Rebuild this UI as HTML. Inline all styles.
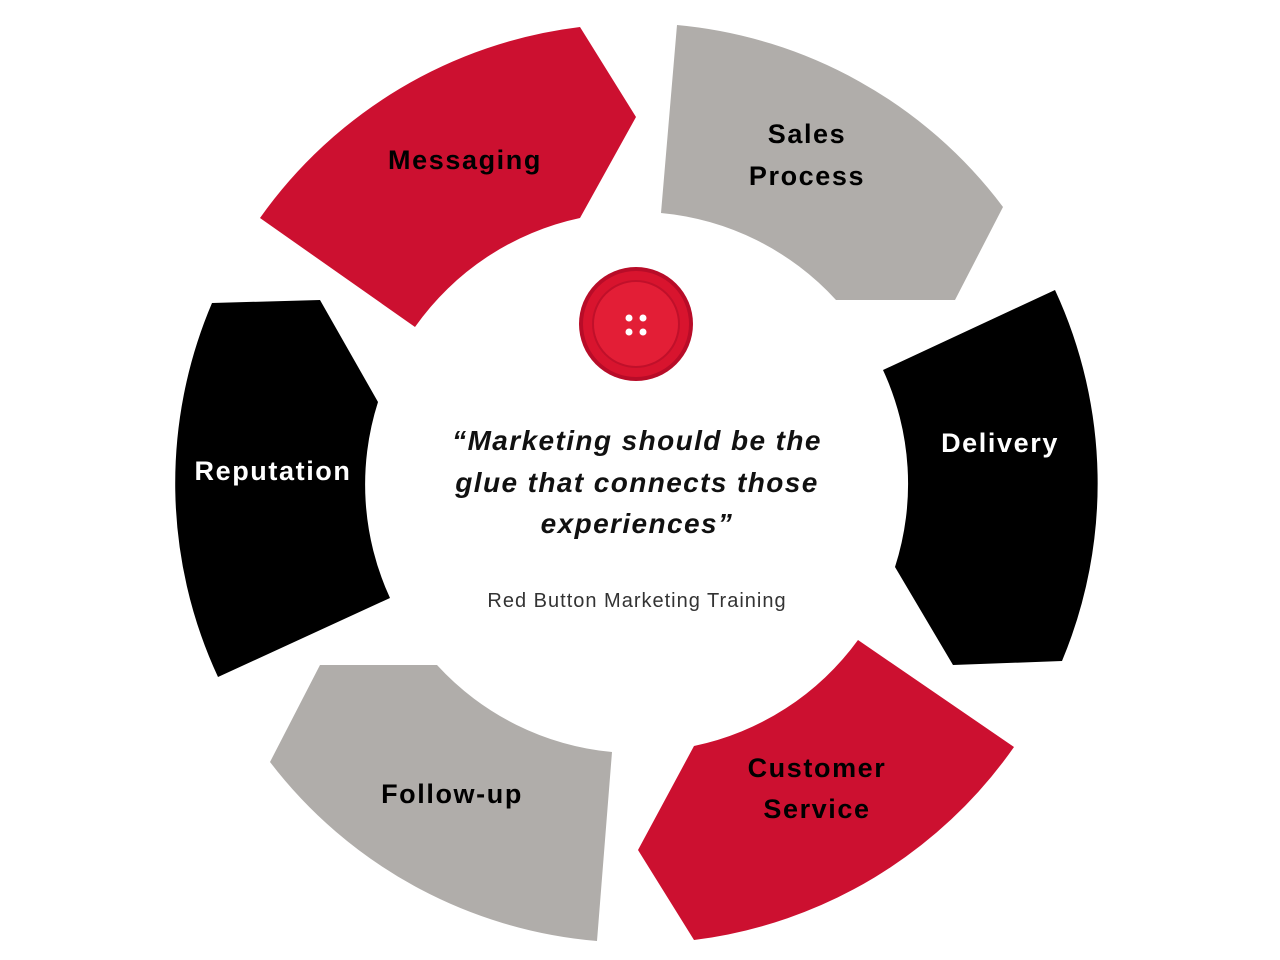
<!DOCTYPE html>
<html><head><meta charset="utf-8"><style>
html,body{margin:0;padding:0;background:#fff;}
svg{display:block;}
text{font-family:"Liberation Sans",sans-serif;}
</style></head><body>
<svg width="1280" height="960" viewBox="0 0 1280 960">
<path d="M260,218 A460,460 0 0 1 580,27 L636,117 L580,218 A271,271 0 0 0 415,327 Z" fill="#cc1030"/>
<path d="M677,25 A460,460 0 0 1 1003,207 L955,300 L836,300 A271,271 0 0 0 661,213 Z" fill="#b0adaa"/>
<path d="M883,370 L1055,290 A460,460 0 0 1 1062,661 L953,665 L895,567 A271,271 0 0 0 883,370 Z" fill="#000"/>
<path d="M858,640 L1014,747 A460,460 0 0 1 694,940 L638,850 L694,746 A271,271 0 0 0 858,640 Z" fill="#cc1030"/>
<path d="M597,941 A460,460 0 0 1 270,762 L320,665 L437,665 A271,271 0 0 0 612,752 Z" fill="#b0adaa"/>
<path d="M390,598 L218,677 A460,460 0 0 1 212,303 L320,300 L378,402 A271,271 0 0 0 390,598 Z" fill="#000"/>

<circle cx="636" cy="324" r="57" fill="#b80c28"/>
<circle cx="636" cy="324" r="53" fill="#d8142e"/>
<circle cx="636" cy="324" r="43" fill="#e31e36" stroke="#c0102a" stroke-width="2"/>
<circle cx="629" cy="318" r="3.5" fill="#fff"/>
<circle cx="643" cy="318" r="3.5" fill="#fff"/>
<circle cx="629" cy="332" r="3.5" fill="#fff"/>
<circle cx="643" cy="332" r="3.5" fill="#fff"/>

<g font-weight="bold" font-size="27" letter-spacing="1.6" text-anchor="middle">
<text x="465" y="169" fill="#000">Messaging</text>
<text x="807" y="143" fill="#000">Sales</text>
<text x="807" y="185" fill="#000">Process</text>
<text x="1000" y="452" fill="#fff">Delivery</text>
<text x="817" y="777" fill="#000">Customer</text>
<text x="817" y="818" fill="#000">Service</text>
<text x="452" y="803" fill="#000">Follow-up</text>
<text x="273" y="480" fill="#fff">Reputation</text>
</g>
<g font-weight="bold" font-style="italic" font-size="28" letter-spacing="1.4" text-anchor="middle" fill="#111">
<text x="637" y="450">“Marketing should be the</text>
<text x="637" y="492">glue that connects those</text>
<text x="637" y="533">experiences”</text>
</g>
<text x="637" y="607" font-size="20" letter-spacing="1" text-anchor="middle" fill="#333">Red Button Marketing Training</text>
</svg>
</body></html>
